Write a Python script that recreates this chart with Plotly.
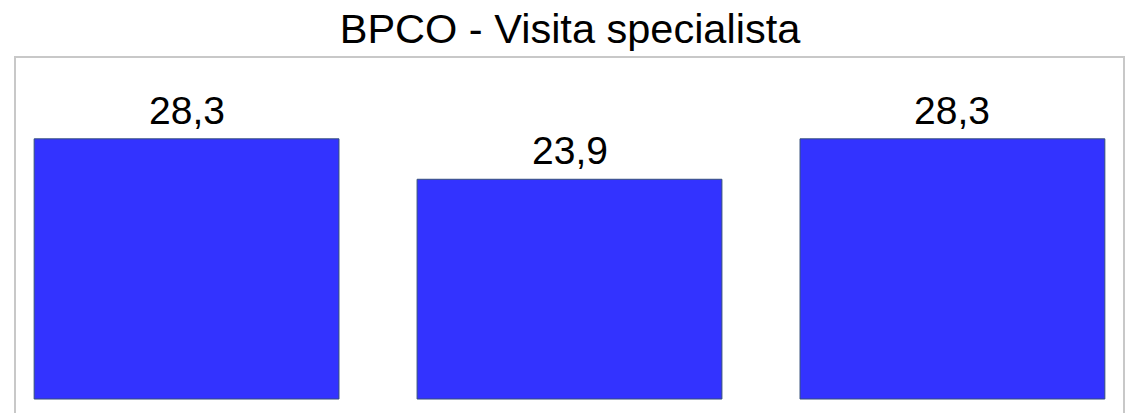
import plotly.graph_objects as go

categories = ["A", "B", "C"]
values = [28.3, 23.9, 28.3]
labels = ["28,3", "23,9", "28,3"]

title_text = "BPCO - Visita specialista"

FONT = "Liberation Sans, Arial, sans-serif"

fig = go.Figure()
fig.add_trace(go.Bar(
    x=categories,
    y=values,
    width=0.796,
    marker=dict(color="#3333FF", line=dict(color="#34507A", width=1)),
    hoverinfo="skip",
))

annotations = [
    dict(x=c, y=v, text=t, xref="x", yref="y", showarrow=False,
         xanchor="center", yanchor="bottom", yshift=5,
         font=dict(family=FONT, size=39, color="#000000"))
    for c, v, t in zip(categories, values, labels)
]

fig.update_layout(
    width=1132, height=413,
    margin=dict(l=15, r=8, t=57, b=0, pad=0),
    paper_bgcolor="#FFFFFF",
    plot_bgcolor="#FFFFFF",
    showlegend=False,
    annotations=annotations,
    title=dict(
        text=title_text,
        font=dict(family=FONT, size=41.5, color="#000000"),
        x=570 / 1132, xanchor="center", xref="container",
        y=1 - 28 / 413, yanchor="middle", yref="container",
    ),
    xaxis=dict(type="category", range=[-0.448, 2.448], showticklabels=False,
               showgrid=False, zeroline=False, showline=False, ticks=""),
    yaxis=dict(range=[-1.52, 37.2], showticklabels=False, showgrid=False,
               zeroline=False, showline=False, ticks=""),
    shapes=[dict(
        type="path", xref="paper", yref="paper",
        path="M 0,-0.2 L 0,1 L 1,1 L 1,-0.2",
        line=dict(color="#C8C8C8", width=2),
        layer="above",
    )],
)

fig.write_html(
    "out.html",
    config={"displayModeBar": False},
    post_script="document.body.style.margin='0';document.body.style.overflow='hidden';",
)
